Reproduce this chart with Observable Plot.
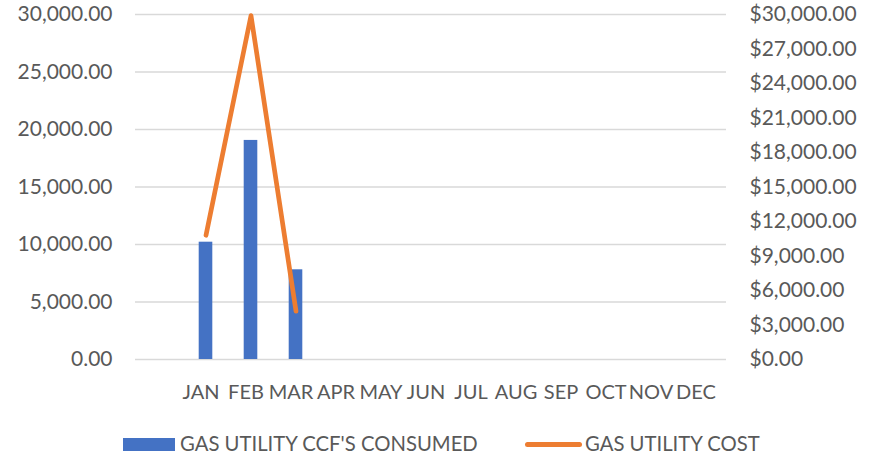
<!DOCTYPE html>
<html>
<head>
<meta charset="utf-8">
<script src="https://cdn.jsdelivr.net/npm/d3@7"></script>
<script src="https://cdn.jsdelivr.net/npm/@observablehq/plot@0.6"></script>
<style>
  html, body { margin: 0; padding: 0; background: #fff; }
  #chart svg { display: block; }
  .legend { position: relative; width: 875px; height: 43px; font-family: Lato, "Open Sans", sans-serif; font-size: 20.3px; color: #595959; }
  .legend .sw-bar { position: absolute; left: 123px; top: 23px; width: 52px; height: 13px; background: #4472c4; }
  .legend .sw-line { position: absolute; left: 525px; top: 27px; width: 57px; height: 5px; border-radius: 3px; background: #ed7d31; }
  .legend .lab { position: absolute; top: 18px; line-height: 21px; white-space: nowrap; }
</style>
</head>
<body>
<div id="chart"></div>
<div class="legend">
  <div class="sw-bar"></div><div class="lab" style="left:180px">GAS UTILITY CCF'S CONSUMED</div>
  <div class="sw-line"></div><div class="lab" style="left:585px">GAS UTILITY COST</div>
</div>
<script>
const months = ["JAN","FEB","MAR","APR","MAY","JUN","JUL","AUG","SEP","OCT","NOV","DEC"];
const ccfConsumed = [10200, 19050, 7800];
const gasCost = [10800, 29900, 4200];
const leftTicks = [0, 5000, 10000, 15000, 20000, 25000, 30000];
const rightTicks = [0, 3000, 6000, 9000, 12000, 15000, 18000, 21000, 24000, 27000, 30000];

const data = ccfConsumed.map((v, i) => ({month: months[i], ccf: v, cost: gasCost[i]}));
const fmt = d3.format(",.2f");
const font = "Lato, 'Open Sans', sans-serif";

const chart = Plot.plot({
  width: 875,
  height: 415,
  marginLeft: 135,
  marginRight: 149,
  marginTop: 14,
  marginBottom: 56,
  style: {fontFamily: font, fontSize: "21px", color: "#595959", background: "#fff"},
  x: {domain: ["", ...months], padding: 0, label: null},
  y: {domain: [0, 30000], label: null},
  marks: [
    Plot.gridY(leftTicks, {stroke: "#d9d9d9", strokeOpacity: 1, strokeWidth: 1.5}),
    Plot.barY(data, {x: "month", y: "ccf", fill: "#4472c4", insetLeft: 15.7, insetRight: 15.7}),
    Plot.line(data, {x: "month", y: "cost", stroke: "#ed7d31", strokeWidth: 4.7, strokeLinecap: "round", strokeLinejoin: "round"}),
    Plot.axisY(leftTicks, {anchor: "left", tickSize: 0, tickPadding: 23, tickFormat: fmt, label: null, fill: "#595959"}),
    Plot.axisY(rightTicks, {anchor: "right", tickSize: 0, tickPadding: 23, tickFormat: d => "$" + fmt(d), label: null, fill: "#595959"}),
    Plot.axisX(months, {anchor: "bottom", tickSize: 0, tickPadding: 25, dx: -5, label: null, fill: "#595959", fontSize: 20})
  ]
});
document.getElementById("chart").appendChild(chart);
</script>
</body>
</html>
